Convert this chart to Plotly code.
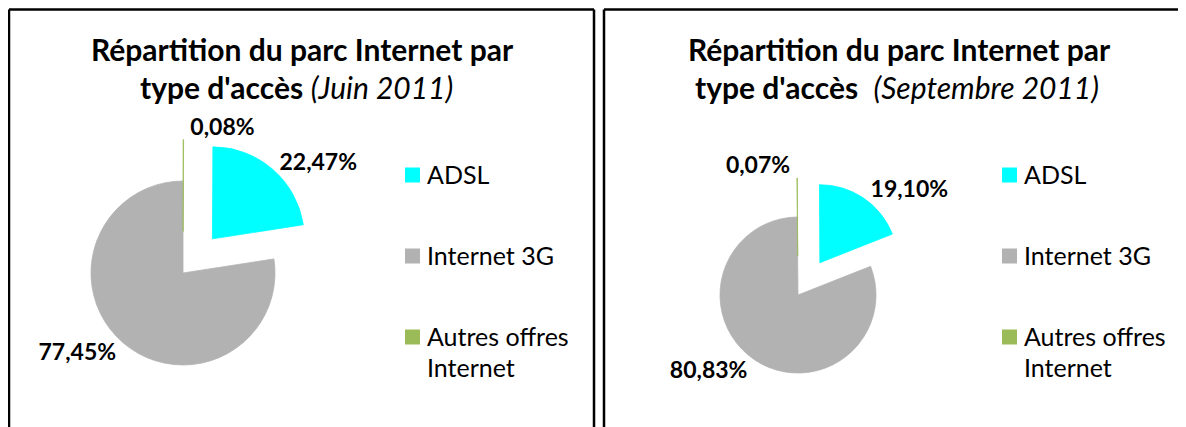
import plotly.graph_objects as go

# page offset (the html body has an 8px margin)
OFF = 8
W, H = 1186 - OFF, 427 - OFF

categories = ["ADSL", "Internet 3G", "Autres offres Internet"]
legend_lines = [["ADSL"], ["Internet 3G"], ["Autres offres", "Internet"]]
juin_values = [22.47, 77.45, 0.08]
sept_values = [19.10, 80.83, 0.07]
colors = ["#00FFFF", "#B2B2B2", "#9BBB59"]
title_main = "Répartition du parc Internet par"
title_sub = "type d'accès"
periods = ["(Juin 2011)", "(Septembre 2011)"]

FONT = "Lato"


def fmt(v):
    return f"{v:.2f}%".replace(".", ",")


def px(x):
    return (x - OFF) / W


def py(y):
    return 1 - (y - OFF) / H


fig = go.Figure()


def add_pie(values, cx, cy, r, pulls, rotation):
    maxpull = max(pulls)
    half = r * (1 + maxpull)
    fig.add_trace(go.Pie(
        labels=categories,
        values=values,
        text=[fmt(v) for v in values],
        textinfo="text",
        textposition="outside",
        textfont=dict(family=FONT, size=23, color="#000000", weight="bold"),
        marker=dict(colors=colors, line=dict(width=0.8, color=colors)),
        sort=False,
        direction="clockwise",
        rotation=rotation,
        pull=pulls,
        showlegend=False,
        automargin=False,
        hoverinfo="label+text",
        domain=dict(x=[px(cx - half), px(cx + half)], y=[py(cy + half), py(cy - half)]),
    ))


add_pie(juin_values, 183, 273, 92, [0.49, 0, 0.45], 0.3)
add_pie(sept_values, 798, 295, 78, [0.5, 0, 0.5], -0.3)

shapes = []
annotations = []


def seg(x0, y0, x1, y1):
    shapes.append(dict(type="line", xref="paper", yref="paper",
                       x0=px(x0), x1=px(x1), y0=py(y0), y1=py(y1),
                       line=dict(color="#000000", width=2.5), layer="above"))


# panel borders (open at the bottom / right edge of the picture)
seg(9, 9.5, 594, 9.5)
seg(9, 9.5, 9, 427)
seg(594, 9.5, 594, 427)
seg(604, 9.5, 1186, 9.5)
seg(604, 9.5, 604, 427)

# titles
for cx1, cx2, period, sep in [(302, 296, periods[0], " "), (899, 897, periods[1], "  ")]:
    annotations.append(dict(xref="paper", yref="paper", x=px(cx1), y=py(49),
                            text=f"<b>{title_main}</b>", showarrow=False,
                            xanchor="center", yanchor="middle",
                            font=dict(family=FONT, size=30, color="#000000")))
    annotations.append(dict(xref="paper", yref="paper", x=px(cx2), y=py(87),
                            text=f"<b>{title_sub}</b>{sep}<i>{period}</i>", showarrow=False,
                            xanchor="center", yanchor="middle",
                            font=dict(family=FONT, size=30, color="#000000")))

# legends
for sq_x in [405, 1002]:
    rows_y = [175, 256, 337]
    for lines, col, yc in zip(legend_lines, colors, rows_y):
        shapes.append(dict(type="rect", xref="paper", yref="paper",
                           x0=px(sq_x), x1=px(sq_x + 15), y0=py(yc + 7.5), y1=py(yc - 7.5),
                           line=dict(width=0), fillcolor=col))
        for i, ln in enumerate(lines):
            annotations.append(dict(xref="paper", yref="paper", x=px(sq_x + 20), y=py(yc - 1 + i * 31),
                                    text=ln, showarrow=False, xanchor="left", yanchor="middle",
                                    font=dict(family=FONT, size=25, color="#000000")))

fig.update_layout(
    width=W, height=H,
    autosize=False,
    margin=dict(l=0, r=0, t=0, b=0, pad=0, autoexpand=False),
    paper_bgcolor="#FFFFFF",
    plot_bgcolor="#FFFFFF",
    showlegend=False,
    shapes=shapes,
    annotations=annotations,
    font=dict(family=FONT),
)

fig.write_html("out.html")
